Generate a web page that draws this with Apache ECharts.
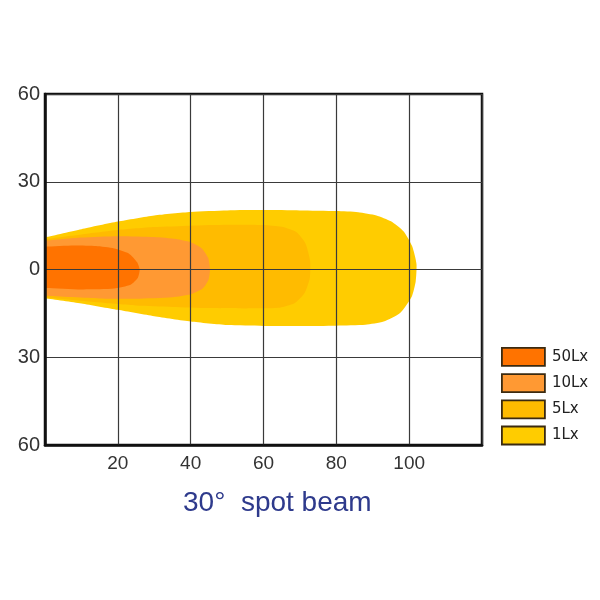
<!DOCTYPE html>
<html>
<head>
<meta charset="utf-8">
<title>30° spot beam</title>
<script src="https://cdn.jsdelivr.net/npm/echarts@6/dist/echarts.min.js"></script>
<style>
html, body { margin: 0; padding: 0; background: #fff; }
#chart { width: 600px; height: 600px; }
</style>
</head>
<body>
<div id="chart"></div>
<script>
// 照度轮廓 [距离m, 宽度m]
var lx1 = [[-2, 10.5], [0, 11], [10, 13.8], [20, 16.4], [30, 18.5], [40, 19.7], [50, 20.2], [60, 20.3], [70, 20.2], [80, 20], [86, 19.6], [91, 18.5], [95, 16.5], [98.5, 13], [100.8, 8], [102, 2], [101.8, -4], [100.7, -9.3], [97.5, -14.9], [93, -17.8], [88, -18.9], [80, -19.2], [70, -19.3], [60, -19.3], [50, -19], [40, -17.8], [30, -16], [20, -13.8], [10, -11.6], [0, -9.8], [-2, -9.4]];
var lx5 = [[-2, 10], [0, 10.4], [10, 12], [20, 13.5], [30, 14.5], [40, 15], [50, 15.3], [60, 15.2], [65, 14.6], [69, 12.8], [71.5, 9], [72.8, 3], [72.7, -3], [71.3, -8], [68.5, -11.5], [64, -13.1], [55, -13.3], [45, -13.2], [35, -12.8], [25, -12.3], [15, -11.3], [0, -9.5], [-2, -9.2]];
var lx10 = [[-2, 9.6], [0, 9.8], [10, 10.9], [20, 11.4], [30, 11.1], [36, 10.4], [40, 9.3], [43, 7.3], [44.8, 4], [45.3, 0], [44.9, -3.5], [43.3, -6.5], [40, -8.5], [35, -9.5], [25, -10], [15, -9.9], [0, -9], [-2, -8.8]];
var lx50 = [[-2, 7.7], [0, 7.8], [8, 8.2], [14, 8], [19, 7.2], [23, 5.5], [25.3, 2.5], [26, 0], [25.5, -2.8], [23.5, -5.2], [19, -6.5], [10, -6.8], [0, -6.3], [-2, -6.2]];
var legendNames = ["50Lx", "10Lx", "5Lx", "1Lx"];
var xTicks = [20, 40, 60, 80, 100];
var yTicks = [-60, -30, 0, 30, 60];

(function() {
    var chart = echarts.init(document.getElementById("chart"));

    function zone(name, pts, color) {
        return {
            name: name,
            type: "custom",
            clip: true,
            itemStyle: { color: color },
            data: pts,
            encode: { x: 0, y: 1 },
            renderItem: function(params, api) {
                if (params.dataIndex !== 0) return; //只画一次，整块多边形
                var points = pts.map(function(p) {
                    return api.coord(p);
                });
                var cs = params.coordSys;
                return {
                    type: "polygon",
                    shape: { points: points, smooth: 0.2 },
                    style: { fill: color },
                    clipPath: {
                        type: "rect",
                        shape: { x: cs.x, y: cs.y, width: cs.width, height: cs.height }
                    }
                };
            }
        };
    }

    var option = {
        animation: false,
        grid: {
            left: 45,
            right: 118,
            top: 94,
            bottom: 155,
            containLabel: false,
            outerBoundsMode: "none",
            show: true,
            borderColor: "#111",
            borderWidth: 2.5
        },
        legend: {
            data: legendNames,
            orient: "vertical",
            left: 501,
            top: 347,
            padding: 0,
            icon: "rect",
            itemWidth: 43,
            itemHeight: 18,
            itemGap: 6.4,
            itemStyle: { borderColor: "#3b2a10", borderWidth: 1.8 },
            textStyle: { fontFamily: "DejaVu Sans", fontSize: 15, color: "#222", padding: [0, 0, 0, 2] },
            selectedMode: false
        },
        xAxis: {
            type: "value",
            min: 0,
            max: 120,
            interval: 20,
            z: 10,
            axisLine: { show: true, onZero: false, lineStyle: { color: "#111", width: 2.5 } },
            axisTick: { show: false },
            splitLine: { show: true, lineStyle: { color: "#3a3a3a", width: 1.2 } },
            axisLabel: {
                margin: 9,
                fontFamily: "Liberation Sans",
                fontSize: 19,
                color: "#333",
                formatter: function(v) {
                    return xTicks.indexOf(v) >= 0 ? String(v) : "";
                }
            }
        },
        yAxis: {
            type: "value",
            min: -60,
            max: 60,
            interval: 30,
            z: 10,
            axisLine: { show: true, onZero: false, lineStyle: { color: "#111", width: 2.5 } },
            axisTick: { show: false },
            splitLine: { show: true, lineStyle: { color: "#3a3a3a", width: 1.2 } },
            axisLabel: {
                margin: 5,
                fontFamily: "Liberation Sans",
                fontSize: 20,
                color: "#333",
                formatter: function(v) {
                    return yTicks.indexOf(v) >= 0 ? String(Math.abs(v)) : "";
                }
            }
        },
        graphic: [{
            type: "text",
            left: 183,
            top: 489,
            style: {
                text: "30°  spot beam",
                font: "28px 'Liberation Sans'",
                fill: "#2e3a8c"
            }
        }],
        series: [
            zone("1Lx", lx1, "#ffcc00"),
            zone("5Lx", lx5, "#ffbb00"),
            zone("10Lx", lx10, "#ff9933"),
            zone("50Lx", lx50, "#ff7300")
        ]
    };

    chart.setOption(option);
}());
</script>
</body>
</html>
